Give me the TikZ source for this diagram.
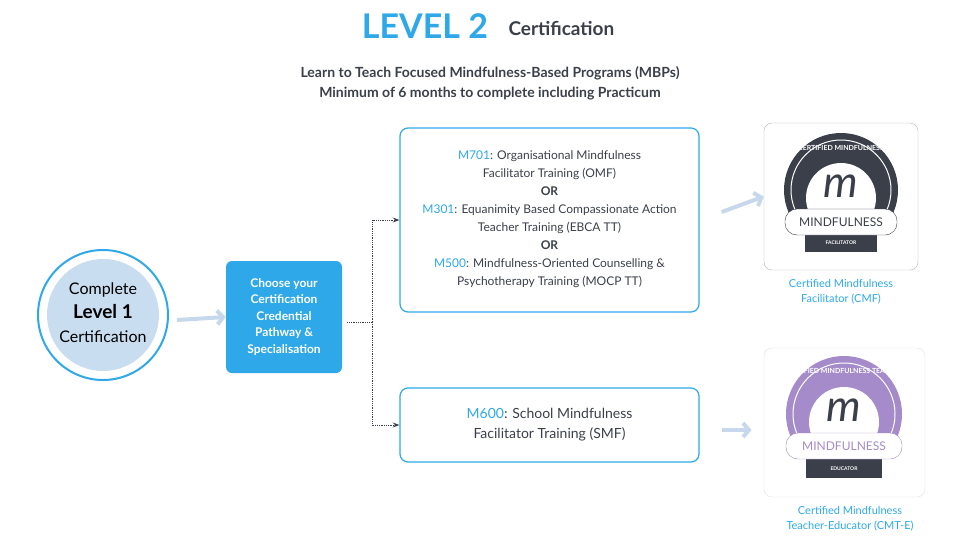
\documentclass[tikz,border=0pt]{standalone}
\usepackage{fontspec}
\setmainfont{Lato}
\usetikzlibrary{arrows.meta}
\definecolor{imblue}{HTML}{2EA8E8}
\definecolor{imdark}{HTML}{3A3F4A}
\definecolor{imlight}{HTML}{C9DDF0}
\definecolor{imarrow}{HTML}{C8D8EC}
\definecolor{impurple}{HTML}{A58BC9}
\begin{document}
\begin{tikzpicture}[x=1pt,y=-1pt]
\tikzset{ >=Stealth,
  txt/.style={font=\fontsize{12}{15}\selectfont, text=imdark, align=center},
  course/.style={draw=imblue, line width=1.2pt, rounded corners=8pt},
  bigarrow/.style={imarrow, line width=4pt, -{Straight Barb[length=6pt,width=14pt]}},
  dotline/.style={densely dotted, thick, imdark},
  badgebox/.style={draw=gray!60, rounded corners=8pt, fill=white},
}
\useasboundingbox (0,0) rectangle (980,555);

%%% Titulo
\node [font=\bfseries\fontsize{34}{34}\selectfont, text=imblue] (lvl) at (425,26) {LEVEL 2};
\node [font=\bfseries\fontsize{19}{19}\selectfont, text=imdark, anchor=west] (cert) at (505,28) {Certification};
\node [txt, font=\bfseries\fontsize{14}{20}\selectfont] (sub) at (490,83)
  {Learn to Teach Focused Mindfulness-Based Programs (MBPs)\\Minimum of 6 months to complete including Practicum};

%%% Blocos

% Level 1
\node [circle, draw=imblue, line width=2pt, minimum size=130pt] (L1) at (103,315) {};
\node [circle, fill=imlight, minimum size=112pt] (L1in) at (103,315) {};
\node [txt, font=\fontsize{16}{24}\selectfont, text=black] (L1txt) at (103,313)
  {Complete\\{\bfseries\fontsize{19}{24}\selectfont Level 1}\\Certification};

% escolha
\node [fill=imblue, rounded corners=6pt, minimum width=116pt, minimum height=112pt] (choose) at (284,317) {};
\node [txt, text=white, font=\bfseries\fontsize{12}{16.5}\selectfont] (chtxt) at (284,317)
  {Choose your\\Certification\\Credential\\Pathway \&\\Specialisation};

% cursos
\node [course, minimum width=299pt, minimum height=184pt] (C1) at (549.5,220) {};
\node [txt, font=\fontsize{12}{18}\selectfont] (C1txt) at (549.5,219)
  {\textcolor{imblue}{M701}: Organisational Mindfulness\\Facilitator Training (OMF)\\
   \textbf{OR}\\\textcolor{imblue}{M301}: Equanimity Based Compassionate Action\\Teacher Training (EBCA TT)\\
   \textbf{OR}\\\textcolor{imblue}{M500}: Mindfulness-Oriented Counselling \&\\Psychotherapy Training (MOCP TT)};
\node [course, minimum width=299pt, minimum height=74pt] (C2) at (549.5,425) {};
\node [txt, font=\fontsize{14}{20}\selectfont] (C2txt) at (549.5,425)
  {\textcolor{imblue}{M600}: School Mindfulness\\Facilitator Training (SMF)};

% selos
\node [badgebox, minimum width=154pt, minimum height=147pt] (B1) at (841,196.5) {};
\fill [imdark] (841,190) circle (57);
\draw [white, line width=1pt] (841,190) circle (50);
\fill [white] (841,198) circle (35);
\node [font=\itshape\fontsize{44}{44}\selectfont, text=imdark] (m1) at (841,186) {m};
\node [font=\bfseries\fontsize{7}{7}\selectfont, text=white] (arc1) at (841,148) {CERTIFIED MINDFULNESS};
\fill [imdark] (805,228) rectangle (877,252);
\node [draw=imdark, fill=white, rounded corners=12pt, minimum width=112pt, minimum height=26pt,
  font=\fontsize{12}{12}\selectfont, text=imdark] (ban1) at (841,222) {MINDFULNESS};
\node [font=\bfseries\fontsize{5}{5}\selectfont, text=white] (fac) at (841,243) {FACILITATOR};

\node [badgebox, draw=gray!25, minimum width=161pt, minimum height=149pt] (B2) at (844.5,422.5) {};
\fill [impurple] (844,414) circle (58);
\draw [white, line width=1pt] (844,414) circle (51);
\fill [white] (844,422) circle (35);
\node [font=\itshape\fontsize{44}{44}\selectfont, text=imdark] (m2) at (844,410) {m};
\node [font=\bfseries\fontsize{7}{7}\selectfont, text=white] (arc2) at (844,371) {CERTIFIED MINDFULNESS TEACHER};
\fill [imdark] (806,452) rectangle (882,478);
\node [draw=impurple, fill=white, rounded corners=12pt, minimum width=116pt, minimum height=26pt,
  font=\fontsize{12}{12}\selectfont, text=impurple] (ban2) at (844,446) {MINDFULNESS};
\node [font=\bfseries\fontsize{5}{5}\selectfont, text=white] (edu) at (844,469) {EDUCATOR};

\node [txt, text=imblue, font=\fontsize{11}{15}\selectfont] (cmf) at (841,292)
  {Certified Mindfulness\\Facilitator (CMF)};
\node [txt, text=imblue, font=\fontsize{11}{15}\selectfont] (cmte) at (850,519)
  {Certified Mindfulness\\Teacher-Educator (CMT-E)};

%%% Linhas
\coordinate (split) at (372,322);
\draw [bigarrow] (L1.east) ++(8,5) -- (choose.west);
\draw [dotline] (choose.east) ++(5,5) -- (split);
\draw [dotline, ->] (split) |- (C1.west);
\draw [dotline, ->] (split) |- (C2.west);
\draw [bigarrow] (C1.east) ++(22,-8) -- (B1.west);
\draw [bigarrow] (C2.east) ++(22,5) -- ++(30,0);
\end{tikzpicture}
\end{document}
